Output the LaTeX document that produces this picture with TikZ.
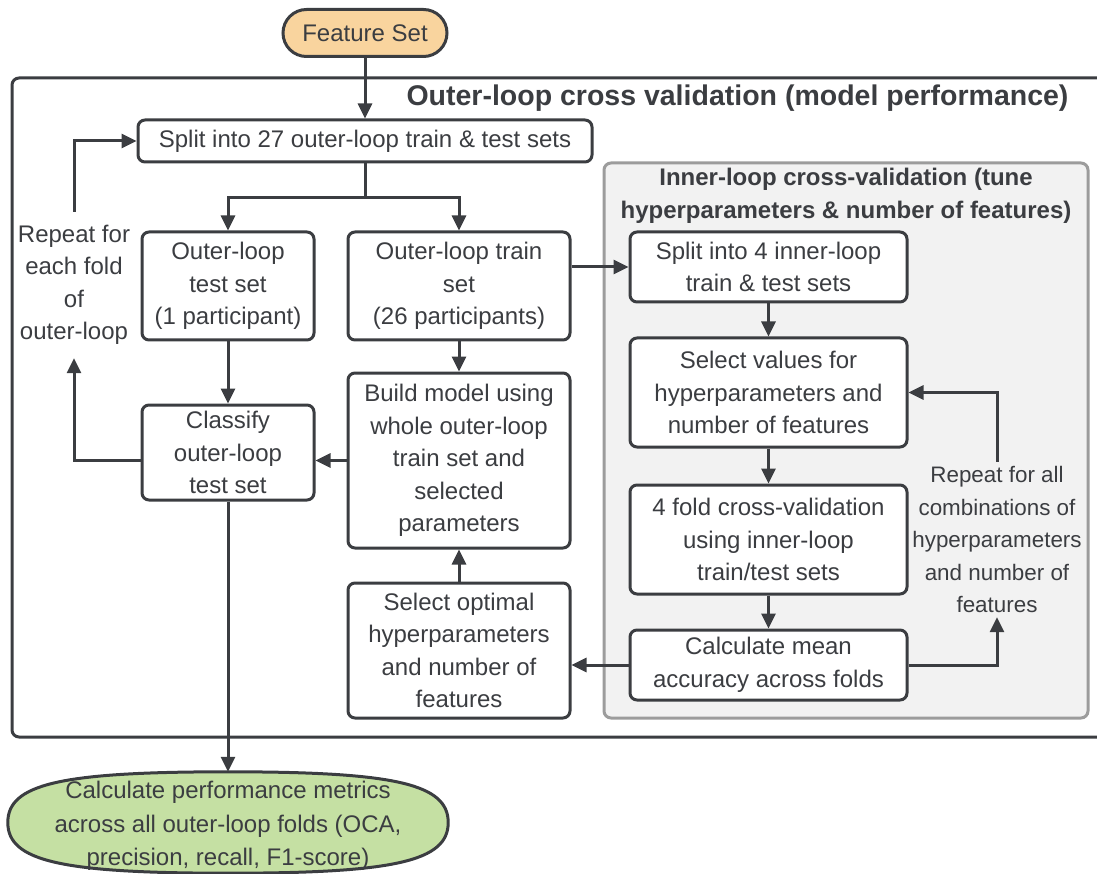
\documentclass[tikz,border=0pt]{standalone}
\usepackage{fontspec}
\setmainfont{Liberation Sans}
\usetikzlibrary{arrows.meta,shapes.misc,calc}
\definecolor{ink}{HTML}{3B3D41}
\definecolor{peach}{HTML}{F9D49E}
\definecolor{leaf}{HTML}{C5E0A3}
\definecolor{panel}{HTML}{F2F2F2}
\definecolor{panelline}{HTML}{9C9C9C}
\begin{document}
\begin{tikzpicture}[x=1pt,y=-1pt,
  every node/.style={font=\fontsize{24}{32.5}\selectfont, text=ink, align=center},
  box/.style={draw=ink, line width=3pt, fill=white, rounded corners=7pt, inner sep=0pt},
  link/.style={draw=ink, line width=3pt, -{Triangle[length=15pt,width=14pt]}},
  plain/.style={draw=ink, line width=3pt},
  heading/.style={font=\fontsize{24}{32.5}\selectfont\bfseries}
]
\useasboundingbox (0,0) rectangle (1097,874);
\clip (0,0) rectangle (1097,874);

% outer loop frame
\draw[ink, line width=3pt, rounded corners=7pt] (12,78) rectangle (1120,737);
\node[heading, font=\fontsize{28.5}{32}\selectfont\bfseries, anchor=east] (outertitle) at (1072,98) {Outer-loop cross validation (model performance)};

% inner loop frame
\draw[panelline, fill=panel, line width=3pt, rounded corners=7pt] (604,163) rectangle (1088,718);
\node[heading] (innertitle) at (846,196) {Inner-loop cross-validation (tune\\hyperparameters \& number of features)};

% start terminal
\node[draw=ink, line width=3pt, fill=peach, rounded rectangle, minimum width=164pt, minimum height=47pt, inner sep=0pt] (feat) at (365,33) {Feature Set};

% end terminal: a squarish ellipse drawn round the node's box
\node[inner sep=0pt, minimum width=440pt, minimum height=101pt] (metrics) at (228,822.5) {};
\def\k{0.76}
\draw[ink, fill=leaf, line width=3pt]
  (metrics.west)
  .. controls ($(metrics.west)!\k!(metrics.north west)$) and ($(metrics.north)!\k!(metrics.north west)$) .. (metrics.north)
  .. controls ($(metrics.north)!\k!(metrics.north east)$) and ($(metrics.east)!\k!(metrics.north east)$) .. (metrics.east)
  .. controls ($(metrics.east)!\k!(metrics.south east)$) and ($(metrics.south)!\k!(metrics.south east)$) .. (metrics.south)
  .. controls ($(metrics.south)!\k!(metrics.south west)$) and ($(metrics.west)!\k!(metrics.south west)$) .. (metrics.west) -- cycle;
\node[font=\fontsize{24}{33.5}\selectfont, anchor=center] (metricstext) at ($(metrics.center)+(0,3.5)$) {Calculate performance metrics\\across all outer-loop folds (OCA,\\precision, recall, F1-score)};

% outer loop steps
\node[box, minimum width=454pt, minimum height=42pt] (split27) at (365,141) {Split into 27 outer-loop train \& test sets};
\node[box, minimum width=172pt, minimum height=108pt] (test) at (228,286) {Outer-loop\\test set\\(1 participant)};
\node[box, minimum width=222pt, minimum height=108pt] (train) at (459,286) {Outer-loop train\\set\\(26 participants)};
\node[box, minimum width=222pt, minimum height=175pt] (build) at (459,460.5) {Build model using\\whole outer-loop\\train set and\\selected\\parameters};
\node[box, minimum width=172pt, minimum height=95pt] (classify) at (228,452.5) {Classify\\outer-loop\\test set};
\node[box, minimum width=222pt, minimum height=135pt] (selopt) at (459,650.5) {Select optimal\\hyperparameters\\and number of\\features};
\node[inner sep=0pt, minimum height=146pt] (rout) at (74,285) {Repeat for\\each fold\\of\\outer-loop};

% inner loop steps
\node[box, minimum width=277pt, minimum height=70pt] (split4) at (768.5,267) {Split into 4 inner-loop\\train \& test sets};
\node[box, minimum width=277pt, minimum height=109pt] (selval) at (768.5,392.5) {Select values for\\hyperparameters and\\number of features};
\node[box, minimum width=277pt, minimum height=109pt] (fourfold) at (768.5,539.5) {4 fold cross-validation\\using inner-loop\\train/test sets};
\node[box, minimum width=277pt, minimum height=70pt] (calcmean) at (768.5,665) {Calculate mean\\accuracy across folds};
\node[inner sep=0pt, minimum height=155pt, font=\fontsize{22.4}{32.5}\selectfont] (rin) at (997,539.5) {Repeat for all\\combinations of\\hyperparameters\\and number of\\features};

% outer loop connectors
\draw[link] (feat.south) -- (split27.north);
\draw[plain] (split27.south) -- ++(0,34) coordinate (fork);
\draw[link] (fork) -| (test.north);
\draw[link] (fork) -| (train.north);
\draw[link] (train.south) -- (build.north);
\draw[link] (test.south) -- (classify.north);
\draw[link] (build.west) -- (build.west -| classify.east);
\draw[link] (selopt.north) -- (build.south);
\draw[link] (classify.west |- build.west) -| (rout.south);
\draw[link] (rout.north) |- (split27.west);
\draw[link] (classify.south) -- (metrics.north);
\draw[link] (split4.west -| train.east) -- (split4.west);

% inner loop connectors
\draw[link] (split4.south) -- (selval.north);
\draw[link] (selval.south) -- (fourfold.north);
\draw[link] (fourfold.south) -- (calcmean.north);
\draw[link] (calcmean.east) -| (rin.south);
\draw[link] (rin.north) |- (selval.east);
\draw[link] (calcmean.west) -- (calcmean.west -| selopt.east);
\end{tikzpicture}
\end{document}
